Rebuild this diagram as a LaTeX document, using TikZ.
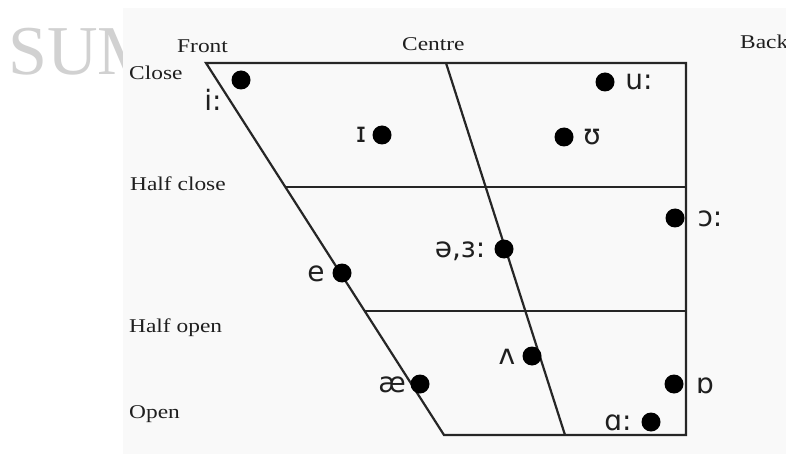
\documentclass[tikz,border=0pt]{standalone}
\usepackage{fontspec}
\setmainfont{Liberation Serif}
\newfontfamily\lblfont[FakeStretch=1.2]{Liberation Serif}
\newfontfamily\ipafont{DejaVu Sans}
\begin{document}
\begin{tikzpicture}[x=1pt,y=-1pt,
  axis/.style={line width=2.2pt, black!85},
  dot/.style={circle, fill=black, inner sep=0pt, minimum size=19pt},
  lbl/.style={font=\lblfont\fontsize{19.5}{20}\selectfont, text=black!88, inner sep=0pt, anchor=base west},
  ipa/.style={font=\ipafont\fontsize{28}{30}\selectfont, inner sep=0pt, text=black!88, anchor=base}]
\useasboundingbox (0,0) rectangle (786,454);
\fill[white] (0,0) rectangle (786,454);
% watermark (clipped by the panel edge)
\begin{scope}
\clip (0,0) rectangle (123,454);
\node[anchor=base west, inner sep=0pt, text=black!18, font=\fontsize{70}{70}\selectfont] (wm) at (8,75) {SUM};
\end{scope}
% panel
\fill[black!2.5] (123,8) rectangle (786,454);
% frame coordinates
\coordinate (tl) at (206,63);
\coordinate (tr) at (686,63);
\coordinate (br) at (686,435);
\coordinate (bl) at (444,435);
\coordinate (ct) at (446,63);
\coordinate (cb) at (565,435);
\coordinate (hcl) at (285.5,187);
\coordinate (hcr) at (686,187);
\coordinate (hol) at (365,311);
\coordinate (hor) at (686,311);
\draw[axis, line join=miter] (tl) -- (tr) -- (br) -- (bl) -- cycle;
\draw[axis] (ct) -- (cb);
\draw[axis] (hcl) -- (hcr);
\draw[axis] (hol) -- (hor);
% axis labels
\node[lbl] (front) at (177,53) {Front};
\node[lbl] (centre) at (402,51) {Centre};
\node[lbl] (back) at (740,49) {Back};
\node[lbl] (close) at (129,80) {Close};
\node[lbl] (hclose) at (130,191) {Half close};
\node[lbl] (hopen) at (129,332) {Half open};
\node[lbl] (open) at (129,418) {Open};
% vowels (label baselines = x-height centre + 7.6)
\node[dot] (d1) at (241,80) {};
\node[ipa] (v1) at (213,111) {i:};
\node[dot] (d2) at (382,135) {};
\node[ipa] (v2) at (361,143) {ɪ};
\node[dot] (d3) at (605,82) {};
\node[ipa] (v3) at (639,90) {u:};
\node[dot] (d4) at (564,137) {};
\node[ipa] (v4) at (592,145) {ʊ};
\node[dot] (d5) at (675,218) {};
\node[ipa] (v5) at (710,226) {ɔ:};
\node[dot] (d6) at (504,249) {};
\node[ipa] (v6) at (460,257) {ə,ɜ:};
\node[dot] (d7) at (342,273) {};
\node[ipa] (v7) at (316,281) {e};
\node[dot] (d8) at (532,356) {};
\node[ipa] (v8) at (507,364) {ʌ};
\node[dot] (d9) at (420,384) {};
\node[ipa] (v9) at (392,392) {æ};
\node[dot] (d10) at (674,384) {};
\node[ipa] (v10) at (705,393) {ɒ};
\node[dot] (d11) at (651,422) {};
\node[ipa] (v11) at (618,430) {ɑ:};
\end{tikzpicture}
\end{document}
